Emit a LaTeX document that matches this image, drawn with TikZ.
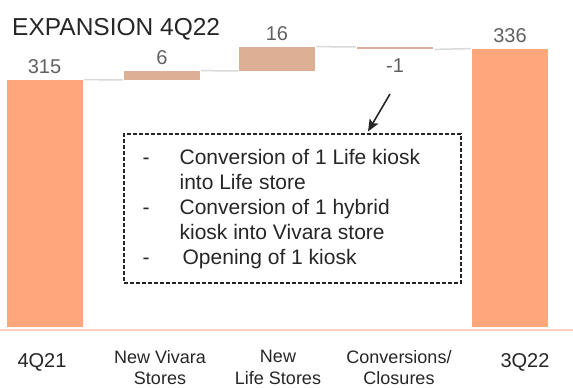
\documentclass[tikz,border=0pt]{standalone}
\usepackage{fontspec}
\setmainfont{Liberation Sans}
\usepackage{tikz}
\usetikzlibrary{arrows.meta,positioning}

\definecolor{barorange}{HTML}{FFA67C}
\definecolor{steptan}{HTML}{DDB096}
\definecolor{linkgray}{HTML}{D9D9D9}
\definecolor{axispink}{HTML}{F9CFC0}
\definecolor{valgray}{HTML}{606060}
\definecolor{inkdark}{HTML}{262626}

\begin{document}
\begin{tikzpicture}[x=1pt,y=-1pt,>={Stealth[length=12pt,width=10pt,inset=2.5pt]},
                    bar/.style={rectangle,inner sep=0pt,minimum width=76pt,fill=barorange},
                    stepbar/.style={bar,fill=steptan},
                    link/.style={draw=linkgray,line width=1.5pt,shorten >=1pt,shorten <=1pt},
                    val/.style={inner sep=0pt,text=valgray,font=\fontsize{20}{24}\selectfont},
                    cat/.style={inner sep=0pt,text=inkdark,align=center,font=\fontsize{18}{21.5}\selectfont},
                    notebox/.style={draw=inkdark,line width=1.1pt,dash pattern=on 4pt off 2pt,inner sep=0pt},
                    pointer/.style={->,draw=inkdark,line width=1.6pt}]

  \useasboundingbox (0,0) rectangle (573,388);

  \node[anchor=base west,inner sep=0pt,text=inkdark,font=\fontsize{24.5}{28}\selectfont]
        (title) at (12,35) {EXPANSION 4Q22};

  % axis
  \coordinate (axl) at (0,330);
  \coordinate (axr) at (573,330);
  \draw[axispink,line width=1.5pt] (axl) -- (axr);

  % bars
  \node[bar,minimum height=247pt,anchor=south]     (b1) at (44.5,327) {};
  \node[stepbar,minimum height=9pt,anchor=south]   (b2) at (162,80)   {};
  \node[stepbar,minimum height=24pt,anchor=south]  (b3) at (277,71)   {};
  \node[stepbar,minimum height=2pt,anchor=north]   (b4) at (395,47)   {};
  \node[bar,minimum height=278pt,anchor=south]     (b5) at (510,327)  {};

  \path (b1.north east) edge[link] (b2.south west);
  \path (b2.north east) edge[link] (b3.south west);
  \path (b3.north east) edge[link] (b4.north west);
  \path (b4.south east) edge[link] (b5.north west);

  % values
  \node[val] (v1) [above=6pt of b1] {315};
  \node[val] (v2) [above=6pt of b2] {6};
  \node[val] (v3) [above=6pt of b3] {16};
  \node[val] (v4) [below=9pt of b4] {-1};
  \node[val] (v5) [above=6pt of b5] {336};

  % categories
  \node[cat,anchor=north,font=\fontsize{20}{24}\selectfont] (c1) at (42,353) {4Q21};
  \node[cat,anchor=north] (c2) at (160,350) {New Vivara\\Stores};
  \node[cat,anchor=north] (c3) at (278,350) {New\\Life Stores};
  \node[cat,anchor=north] (c4) at (399,350) {Conversions/\\Closures};
  \node[cat,anchor=north,font=\fontsize{20}{24}\selectfont] (c5) at (525,353) {3Q22};

  % note
  \node[notebox,minimum width=337pt,minimum height=149pt] (note) at (292.5,208.5) {};
  \node[anchor=north west,inner sep=0pt,text=inkdark,font=\fontsize{21}{25}\selectfont]
        (items) at ([xshift=19pt,yshift=-13.5pt]note.north west)
        {\begin{tabular}{@{}p{37pt}@{}l@{}}
          -&Conversion of 1 Life kiosk\\
           &into Life store\\
          -&Conversion of 1 hybrid\\
           &kiosk into Vivara store\\
          -&\hspace{3pt}Opening of 1 kiosk
         \end{tabular}};

  \coordinate (tail) at (390,94);
  \draw[pointer] (tail) -- ([xshift=75.5pt,yshift=2pt]note.north);

\end{tikzpicture}
\end{document}
